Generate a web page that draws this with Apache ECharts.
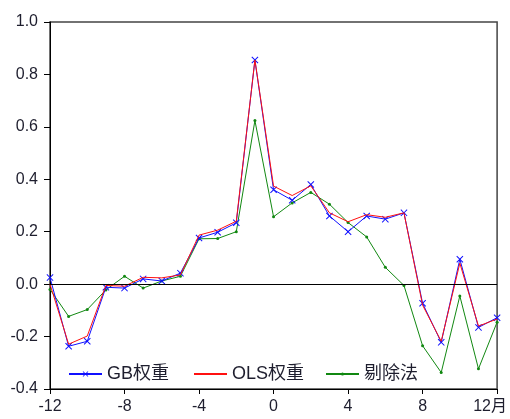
<!DOCTYPE html>
<html>
<head>
<meta charset="utf-8">
<script src="https://cdn.jsdelivr.net/npm/echarts@6/dist/echarts.min.js"></script>
<style>
  html, body { margin: 0; padding: 0; background: #fff; }
  #chart { width: 510px; height: 419px; }
</style>
</head>
<body>
<div id="chart"></div>
<script>
// Event-window months, -12 .. 12
const months = [-12, -11, -10, -9, -8, -7, -6, -5, -4, -3, -2, -1, 0, 1, 2, 3, 4, 5, 6, 7, 8, 9, 10, 11, 12];

// Weights estimated with the GB method
const gbWeights = [0.025, -0.237, -0.218, -0.012, -0.015, 0.02, 0.012, 0.042, 0.176, 0.198, 0.234, 0.855, 0.36, 0.32, 0.38, 0.26, 0.2, 0.26, 0.248, 0.272, -0.073, -0.222, 0.095, -0.165, -0.128];

// Weights estimated with OLS
const olsWeights = [0.0, -0.229, -0.198, -0.005, -0.008, 0.026, 0.024, 0.035, 0.187, 0.206, 0.24, 0.855, 0.374, 0.338, 0.375, 0.272, 0.238, 0.265, 0.255, 0.272, -0.08, -0.218, 0.08, -0.16, -0.133];

// Weights from the exclusion method
const exclWeights = [-0.02, -0.123, -0.097, -0.022, 0.03, -0.015, 0.012, 0.03, 0.173, 0.174, 0.2, 0.624, 0.257, 0.31, 0.35, 0.305, 0.235, 0.18, 0.064, -0.005, -0.235, -0.337, -0.045, -0.323, -0.145];

const seriesNames = ['GB权重', 'OLS权重', '剔除法'];
const yTicks = { min: -0.4, max: 1.0, step: 0.2 };
const xTicks = { min: -12, max: 12, step: 4 };

const pairs = vals => months.map((m, i) => [m, vals[i]]);

const xMark = 'path://M0,1L1,0L5,4L9,0L10,1L6,5L10,9L9,10L5,6L1,10L0,9L4,5Z';
const font = 'Liberation Sans, Arial, Noto Sans CJK SC, sans-serif';
const textColor = '#1e1e2e';

// one legend per series so each key sits where it should along the bottom
const legendBase = {
  top: 360, itemWidth: 33, itemGap: 0,
  textStyle: { fontFamily: font, fontSize: 18, color: textColor }
};

const chart = echarts.init(document.getElementById('chart'), null, { renderer: 'canvas' });

chart.setOption({
  animation: false,
  backgroundColor: '#fff',
  grid: {
    left: 50, right: 11, top: 22, bottom: 30,
    show: true, borderColor: '#444', borderWidth: 1.5, backgroundColor: 'transparent'
  },
  legend: [
    Object.assign({}, legendBase, { left: 63, itemHeight: 7, data: [seriesNames[0]] }),
    Object.assign({}, legendBase, { left: 188, itemHeight: 7,
      data: [{ name: seriesNames[1], itemStyle: { opacity: 0 } }] }),
    Object.assign({}, legendBase, { left: 320, itemHeight: 4, data: [seriesNames[2]] })
  ],
  xAxis: {
    type: 'value',
    min: xTicks.min, max: xTicks.max, interval: xTicks.step,
    axisLine: { show: true, onZero: false, lineStyle: { color: '#000', width: 1 } },
    axisTick: { show: true, inside: false, length: 5, lineStyle: { color: '#000' } },
    splitLine: { show: false },
    axisLabel: {
      margin: 10, fontFamily: font, fontSize: 16, color: textColor,
      formatter: v => v === xTicks.max ? '{end|' + v + '月}' : String(v),
      rich: { end: { fontFamily: font, fontSize: 16, color: textColor, padding: [0, 14, 0, 0] } }
    }
  },
  yAxis: {
    type: 'value',
    min: yTicks.min, max: yTicks.max, interval: yTicks.step,
    axisLine: { show: true, onZero: false, lineStyle: { color: '#000', width: 1 } },
    axisTick: { show: true, inside: false, length: 6, lineStyle: { color: '#000' } },
    splitLine: { show: false },
    axisLabel: {
      margin: 12, fontFamily: font, fontSize: 16, color: textColor,
      formatter: v => v.toFixed(1)
    }
  },
  series: [
    {
      name: seriesNames[2], type: 'line', data: pairs(exclWeights),
      symbol: 'circle', symbolSize: 3, showSymbol: true,
      lineStyle: { color: '#118811', width: 1 },
      itemStyle: { color: '#118811' },
      z: 2,
      markLine: {
        silent: true, symbol: 'none', label: { show: false },
        lineStyle: { color: '#000', width: 1, type: 'solid' },
        data: [{ yAxis: 0 }]
      }
    },
    {
      name: seriesNames[0], type: 'line', data: pairs(gbWeights),
      symbol: xMark, symbolSize: 7, showSymbol: true,
      lineStyle: { color: '#1010ff', width: 1 },
      itemStyle: { color: '#1010ff' },
      z: 3
    },
    {
      name: seriesNames[1], type: 'line', data: pairs(olsWeights),
      symbol: 'none', showSymbol: false,
      lineStyle: { color: '#ff1010', width: 1 },
      itemStyle: { color: '#ff1010' },
      z: 4
    }
  ]
});
</script>
</body>
</html>
